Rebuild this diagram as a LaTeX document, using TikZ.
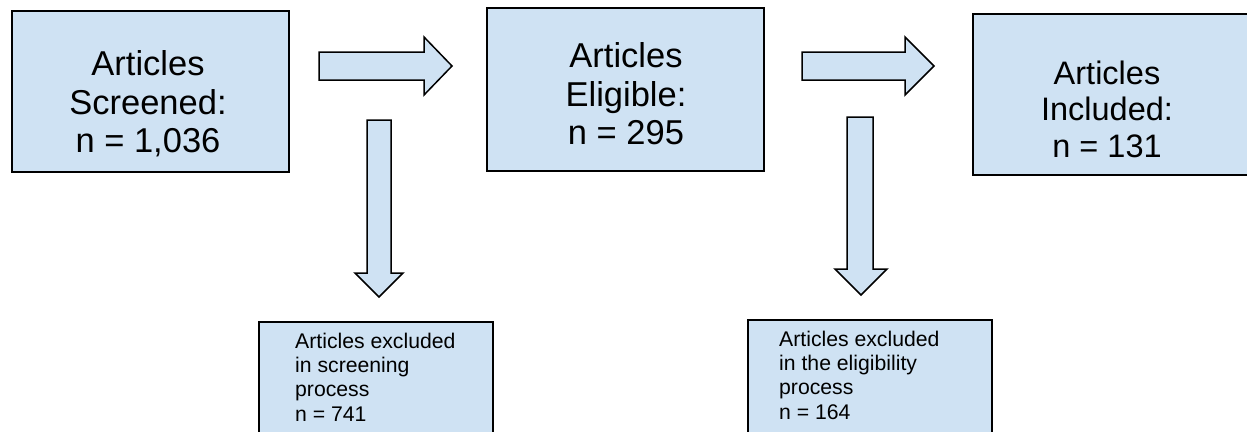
\documentclass[tikz,border=0pt]{standalone}
\usepackage{fontspec}
\setmainfont{Liberation Sans}
\definecolor{boxblue}{HTML}{CFE2F3}
\begin{document}
\begin{tikzpicture}[x=1pt,y=-1pt,
  box/.style={draw=black, fill=boxblue, line width=1.5pt, inner sep=0pt, anchor=north west},
  blockarrow/.style={draw=black, fill=boxblue, line width=1.5pt, line join=miter},
  bigtext/.style={anchor=north, inner sep=0pt, align=center, font=\fontsize{34.5}{38.5}\selectfont},
  midtext/.style={anchor=north, inner sep=0pt, align=center, font=\fontsize{32.5}{36.5}\selectfont},
  smalltext/.style={anchor=north west, inner sep=0pt, align=left, font=\fontsize{21.2}{24.3}\selectfont}]
\useasboundingbox (0,0) rectangle (1247,431);
\clip (0,0) rectangle (1247,431);

% main boxes
\node[box, minimum width=277pt, minimum height=161pt] (b1) at (11,10) {};
\node[box, minimum width=277pt, minimum height=163pt] (b2) at (486,7) {};
\node[box, minimum width=300pt, minimum height=161pt] (b3) at (972,13) {};
% excluded boxes
\node[box, minimum width=234pt, minimum height=140pt] (e1) at (258,321) {};
\node[box, minimum width=244pt, minimum height=140pt] (e2) at (747,319) {};

% texts
\node[bigtext] (t1) at (148,50.3) {Articles\\Screened:\\n = 1,036};
\node[bigtext] (t2) at (626,42.3) {Articles\\Eligible:\\n = 295};
\node[midtext] (t3) at (1107,60.7) {Articles\\Included:\\n = 131};
\node[smalltext] (t4) at (295,332.8) {Articles excluded\\in screening\\process\\n = 741};
\node[smalltext] (t5) at (779,330.8) {Articles excluded\\in the eligibility\\process\\n = 164};

% block arrows (right)
\draw[blockarrow] (319,52) -- (424,52) -- (424,37) -- (452,66) -- (424,95) -- (424,80) -- (319,80) -- cycle;
\draw[blockarrow] (802,52) -- (905,52) -- (905,37) -- (934,66) -- (905,95) -- (905,80) -- (802,80) -- cycle;
% block arrows (down)
\draw[blockarrow] (367,120) -- (391,120) -- (391,273) -- (403,273) -- (379,297) -- (355,273) -- (367,273) -- cycle;
\draw[blockarrow] (847,117) -- (873,117) -- (873,269) -- (887,269) -- (861,295) -- (835,269) -- (847,269) -- cycle;
\end{tikzpicture}
\end{document}
